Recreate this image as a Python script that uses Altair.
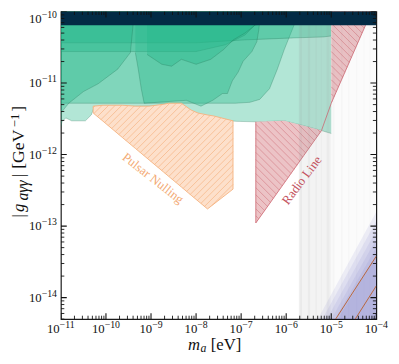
import altair as alt
import numpy as np
import pandas as pd

# ---------------- values (log10 units) ----------------
X_DOMAIN = [1e-11, 1e-4]
Y_DOMAIN = [5e-15, 1e-10]

# green exclusion regions: lower edge (log10 m, log10 g); upper edge is the top of the plot
G1_LOGM = [-11.0, -10.978, -10.891, -10.761, -10.457, -10.326, -10.261, -9.739, -8.652, -8.109, -7.957, -7.609, -7.196, -7.109, -6.652, -6.043, -5.609, -5.217, -5.0]
G1_LOGG = [-11.623, -11.542, -11.487, -11.528, -11.528, -11.446, -11.337, -11.33, -11.32, -11.40, -11.44, -11.48, -11.53, -11.535, -11.542, -11.528, -11.596, -11.664, -11.705]
G2_LOGM = [-11.0, -7.130, -6.804, -6.587, -6.370, -6.196, -6.043, -5.913, -5.826, -5.783]
G2_LOGG = [-11.282, -11.282, -11.269, -11.228, -11.078, -10.805, -10.532, -10.327, -10.191, -10.0]
G3_LOGM = [-11.0, -8.0, -6.913, -5.826, -5.174, -5.0]
G3_LOGG = [-10.437, -10.437, -10.396, -10.368, -10.355, -10.341]
G4_LOGM = [-11.0, -8.0, -7.348, -6.913, -6.696, -6.587]
G4_LOGG = [-10.559, -10.559, -10.464, -10.327, -10.191, -10.0]
D1_LOGM = [-11.0, -10.826, -10.5, -10.174, -9.739, -9.457, -9.370]
D1_LOGG = [-11.419, -11.282, -11.119, -11.010, -10.805, -10.573, -10.0]
D2_LOGM = [-9.348, -9.283, -9.217, -9.152, -8.217, -7.891, -7.630, -7.413, -7.304, -7.196, -7.065, -6.957, -6.761, -6.652, -6.609, -6.565]
D2_LOGG = [-10.573, -10.805, -11.078, -11.282, -11.241, -11.323, -11.241, -11.146, -11.146, -10.969, -10.846, -10.696, -10.559, -10.423, -10.259, -10.0]
D3_LOGM = [-9.087, -8.761, -8.543, -8.326, -8.0, -7.674, -7.391, -7.174, -6.913, -6.696, -6.478, -6.370]
D3_LOGG = [-10.600, -10.737, -10.764, -10.668, -10.737, -10.668, -10.532, -10.396, -10.300, -10.191, -10.164, -10.0]
GREEN_REGIONS = [(G1_LOGM, G1_LOGG), (G2_LOGM, G2_LOGG), (G3_LOGM, G3_LOGG), (G4_LOGM, G4_LOGG),
                 (D1_LOGM, D1_LOGG), (D2_LOGM, D2_LOGG), (D3_LOGM, D3_LOGG)]

# Pulsar Nulling region
OR_LOGM = [-10.283, -10.065, -9.630, -9.348, -9.043, -8.717, -8.609, -8.326, -8.109, -7.957, -7.746, -7.609, -7.180]
OR_TOP = [-11.323, -11.310, -11.310, -11.323, -11.323, -11.296, -11.282, -11.282, -11.378, -11.419, -11.446, -11.460, -11.528]
OR_BOT = [-11.419, -11.533, -11.764, -11.913, -12.074, -12.246, -12.304, -12.453, -12.569, -12.649, -12.760, -12.693, -12.483]

# Radio Line region
RL_LOGM = [-6.674, -6.043, -5.609, -5.217, -5.0, -5.0, -4.239, -4.109]
RL_BOT = [-12.956, -12.397, -12.012, -11.664, -11.282, -11.282, -10.191, -10.0]
RL_TOP = [-11.542, -11.528, -11.596, -11.664, -11.282, -10.0, -10.0, -10.0]

# top dark band
NAVY_LOGM = [-11.0, -4.0]
NAVY_LOGG = [-10.19, -10.19]

# grey vertical streaks: (log m start, log m end, opacity)
STREAKS = [(-5.72, -5.0, 0.11), (-5.70, -5.65, 0.08), (-5.52, -5.47, 0.08), (-5.35, -5.32, 0.07),
           (-5.23, -5.21, 0.06), (-5.10, -5.04, 0.08), (-5.0, -4.0, 0.03), (-4.97, -4.93, 0.05),
           (-4.78, -4.75, 0.05), (-4.62, -4.60, 0.05), (-4.45, -4.42, 0.04), (-4.28, -4.26, 0.04),
           (-4.15, -4.13, 0.04)]

# QCD band: start of each layer at the bottom edge, upper edge at m = 1e-4
BAND_START_LOGM = [-5.30, -5.20, -5.10, -5.00, -4.92, -4.85]
BAND_TOP_LOGG = [-12.80, -12.93, -13.06, -13.18, -13.30, -13.40]
KSVZ_M = [1.25e-5, 1e-4]
KSVZ_G = [5.0e-15, 3.8e-14]
DFSZ_M = [3.4e-5, 1e-4]
DFSZ_G = [5.0e-15, 1.46e-14]

ANNOTATIONS = [("Pulsar Nulling", -8.957, -12.333, 38, "#f3aa74"),
               ("Radio Line", -5.652, -12.36, 307, "#c4545f")]

X_MAJOR_EXP = list(range(-11, -3))
Y_MAJOR_EXP = list(range(-14, -9))

# ---------------- styling ----------------
SERIF = "Liberation Serif"
GREEN = "#23b88a"
TICK = "#111111"
PX_X = 46.0   # pixels per decade (hatch / tick geometry)
PX_Y = 73.0
W, H = 322, 314

XS = alt.Scale(type="log", domain=X_DOMAIN, nice=False)
YS = alt.Scale(type="log", domain=Y_DOMAIN, nice=False)


def X(f="m"):
    return alt.X(f"{f}:Q", scale=XS, axis=None)


def Y(f="g"):
    return alt.Y(f"{f}:Q", scale=YS, axis=None)


def area_df(logm, lo, hi):
    return pd.DataFrame({"m": 10 ** np.asarray(logm, float), "g": 10 ** np.asarray(lo, float),
                         "g2": 10 ** np.asarray(hi, float)})


def path_df(points):
    return pd.DataFrame({"m": [10 ** p[0] for p in points], "g": [10 ** p[1] for p in points],
                         "i": list(range(len(points)))})


def hatch_df(logm, lo, hi, sign, spacing):
    xs = np.asarray(logm, float)
    u = np.linspace(xs.min(), xs.max(), 1500)
    a = np.interp(u, xs, lo)
    b = np.interp(u, xs, hi)
    qlo = np.minimum(a, b) * PX_Y
    qhi = np.maximum(a, b) * PX_Y
    p = u * PX_X
    cmin = np.min(qlo - sign * p)
    cmax = np.max(qhi - sign * p)
    rows = []
    c = np.floor(cmin / spacing) * spacing
    while c <= cmax:
        q = sign * p + c
        idx = np.flatnonzero((q >= qlo) & (q <= qhi))
        if idx.size:
            br = np.flatnonzero(np.diff(idx) > 1)
            starts = np.r_[idx[0], idx[br + 1]]
            ends = np.r_[idx[br], idx[-1]]
            for s, e in zip(starts, ends):
                if e > s:
                    rows.append({"m": float(10 ** u[s]), "g": float(10 ** (q[s] / PX_Y)),
                                 "m2": float(10 ** u[e]), "g2": float(10 ** (q[e] / PX_Y))})
        c += spacing
    return pd.DataFrame(rows)


LOG_YMIN, LOG_YMAX = float(np.log10(Y_DOMAIN[0])), float(np.log10(Y_DOMAIN[1]))
LOG_XMIN, LOG_XMAX = float(np.log10(X_DOMAIN[0])), float(np.log10(X_DOMAIN[1]))

layers = []

# green regions
for lm, lg in GREEN_REGIONS:
    df = area_df(lm, lg, [-10.0] * len(lm))
    layers.append(alt.Chart(df).mark_area(color=GREEN, opacity=0.35, clip=True).encode(x=X(), y=Y(), y2="g2:Q"))
    layers.append(alt.Chart(df).mark_line(color="#1d6b4e", strokeWidth=0.7, opacity=0.4, clip=True).encode(x=X(), y=Y()))

# radio line region
layers.append(alt.Chart(area_df(RL_LOGM, RL_BOT, RL_TOP)).mark_area(color="#ecc3c6", opacity=1, clip=True)
              .encode(x=X(), y=Y(), y2="g2:Q"))
layers.append(alt.Chart(hatch_df(RL_LOGM, RL_BOT, RL_TOP, -1, 7.2)).mark_rule(color="#d98a92", strokeWidth=0.8, clip=True)
              .encode(x=X(), x2="m2:Q", y=Y(), y2="g2:Q"))
rl_path = [(RL_LOGM[0], RL_TOP[0])] + list(zip(RL_LOGM[:5], RL_BOT[:5])) + list(zip(RL_LOGM[6:], RL_BOT[6:]))
layers.append(alt.Chart(path_df(rl_path)).mark_line(color="#d0707a", strokeWidth=0.9, clip=True)
              .encode(x=X(), y=Y(), order="i:Q"))

# pulsar nulling region
layers.append(alt.Chart(area_df(OR_LOGM, OR_BOT, OR_TOP)).mark_area(color="#fde0cb", opacity=1, clip=True)
              .encode(x=X(), y=Y(), y2="g2:Q"))
layers.append(alt.Chart(hatch_df(OR_LOGM, OR_BOT, OR_TOP, 1, 6.7)).mark_rule(color="#f6b88a", strokeWidth=0.8, clip=True)
              .encode(x=X(), x2="m2:Q", y=Y(), y2="g2:Q"))
or_path = list(zip(OR_LOGM, OR_TOP)) + list(zip(OR_LOGM[::-1], OR_BOT[::-1])) + [(OR_LOGM[0], OR_TOP[0])]
layers.append(alt.Chart(path_df(or_path)).mark_line(color="#f5b27e", strokeWidth=0.9, clip=True)
              .encode(x=X(), y=Y(), order="i:Q"))

# grey streaks
streak_df = pd.DataFrame({"m": [10 ** s[0] for s in STREAKS], "m2": [10 ** s[1] for s in STREAKS],
                          "op": [s[2] for s in STREAKS]})
streak_df["g"] = Y_DOMAIN[0]
streak_df["g2"] = Y_DOMAIN[1]
layers.append(alt.Chart(streak_df).mark_rect(color="#8f8f8f", clip=True)
              .encode(x=X(), x2="m2:Q", y=Y(), y2="g2:Q", opacity=alt.Opacity("op:Q", scale=None, legend=None)))

# QCD band
for sm, tg in zip(BAND_START_LOGM, BAND_TOP_LOGG):
    bdf = area_df([sm, -4.0], [LOG_YMIN] * 2, [LOG_YMIN, tg])
    layers.append(alt.Chart(bdf).mark_area(color="#6464c0", opacity=0.095, clip=True).encode(x=X(), y=Y(), y2="g2:Q"))
for mm, gg in ((KSVZ_M, KSVZ_G), (DFSZ_M, DFSZ_G)):
    ldf = pd.DataFrame({"m": mm, "g": gg, "i": [0, 1]})
    layers.append(alt.Chart(ldf).mark_line(color="#b8653a", strokeWidth=1.0, clip=True)
                  .encode(x=X(), y=Y(), order="i:Q"))

# top dark band
layers.append(alt.Chart(area_df(NAVY_LOGM, NAVY_LOGG, [-10.0, -10.0])).mark_area(color="#032b45", opacity=1, clip=True)
              .encode(x=X(), y=Y(), y2="g2:Q"))

# ---------------- ticks (inward, on all four sides) ----------------
X_MAJOR = [10.0 ** e for e in X_MAJOR_EXP]
Y_MAJOR = [10.0 ** e for e in Y_MAJOR_EXP]
X_MINOR = [k * 10.0 ** n for n in range(-11, -4) for k in range(2, 10)]
Y_MINOR = [k * 10.0 ** n for n in range(-15, -10) for k in range(2, 10) if k * 10.0 ** n >= 5e-15]

tick_rows = []
for vals, size, sw in ((X_MAJOR, 6.0, 1.1), (X_MINOR, 3.5, 0.9)):
    d = size / PX_Y
    for v in vals:
        tick_rows.append({"m": v, "m2": v, "g": 10 ** LOG_YMIN, "g2": 10 ** (LOG_YMIN + d), "w": sw})
        tick_rows.append({"m": v, "m2": v, "g": 10 ** (LOG_YMAX - d), "g2": 10 ** LOG_YMAX, "w": sw})
for vals, size, sw in ((Y_MAJOR, 6.0, 1.1), (Y_MINOR, 3.5, 0.9)):
    d = size / PX_X
    for v in vals:
        tick_rows.append({"g": v, "g2": v, "m": 10 ** LOG_XMIN, "m2": 10 ** (LOG_XMIN + d), "w": sw})
        tick_rows.append({"g": v, "g2": v, "m": 10 ** (LOG_XMAX - d), "m2": 10 ** LOG_XMAX, "w": sw})
TICK_DF = pd.DataFrame(tick_rows)
layers.append(alt.Chart(TICK_DF).mark_rule(color=TICK, clip=True)
              .encode(x=X(), x2="m2:Q", y=Y(), y2="g2:Q",
                      strokeWidth=alt.StrokeWidth("w:Q", scale=None, legend=None)))

# annotations
for txt, lm, lg, ang, col in ANNOTATIONS:
    tdf = pd.DataFrame({"m": [10 ** lm], "g": [10 ** lg], "t": [txt]})
    layers.append(alt.Chart(tdf).mark_text(angle=ang, color=col, font=SERIF, fontSize=13, align="center",
                                           baseline="middle").encode(x=X(), y=Y(), text="t:N"))

# ---------------- tick labels: "10" with a raised exponent ----------------
for two_digit, dxl in ((True, -1.3), (False, 1.2)):
    exps = [e for e in X_MAJOR_EXP if (e <= -10) == two_digit]
    ldf = pd.DataFrame({"m": [10.0 ** e for e in exps], "base": ["10"] * len(exps),
                        "exp": [f"\u2212{-e}" for e in exps]})
    layers.append(alt.Chart(ldf).mark_text(align="right", baseline="alphabetic", font=SERIF, fontSize=13,
                                           color=TICK, dx=dxl)
                  .encode(x=X(), y=alt.value(H + 14), text="base:N"))
    layers.append(alt.Chart(ldf).mark_text(align="left", baseline="alphabetic", font=SERIF, fontSize=10,
                                           color=TICK, dx=dxl)
                  .encode(x=X(), y=alt.value(H + 9.5), text="exp:N"))

# y labels; the topmost one sits slightly lower so it stays inside the page
for exps, shift in ((Y_MAJOR_EXP[:-1], 0), (Y_MAJOR_EXP[-1:], 8)):
    ydf = pd.DataFrame({"g": [10.0 ** e for e in exps], "base": ["10"] * len(exps),
                        "exp": [f"\u2212{-e}" for e in exps]})
    layers.append(alt.Chart(ydf).mark_text(align="right", baseline="alphabetic", font=SERIF, fontSize=13,
                                           color=TICK, dy=4 + shift)
                  .encode(y=Y(), x=alt.value(-19.6), text="base:N"))
    layers.append(alt.Chart(ydf).mark_text(align="right", baseline="alphabetic", font=SERIF, fontSize=10,
                                           color=TICK, dy=-1 + shift)
                  .encode(y=Y(), x=alt.value(-4), text="exp:N"))

# ---------------- axis titles (pieces: text, x, y, size, style, angle) ----------------
TITLE_PIECES = [
    ("m", 129.7, 345, 17, "italic", 0),
    ("a", 142.5, 348, 12, "italic", 0),
    ("[eV]", 153, 345, 17, "normal", 0),
    ("|", -38, 210.3, 17, "normal", 270),
    ("g", -38, 204.5, 17, "italic", 270),
    ("a\u03b3\u03b3", -34, 193, 16, "italic", 270),
    ("|", -38, 169, 17, "normal", 270),
    ("[GeV", -38, 160.5, 18, "normal", 270),
    ("\u22121", -43, 118, 13, "normal", 270),
    ("]", -38, 102, 17, "normal", 270),
]
ONE = pd.DataFrame({"k": [0]})
for txt, px, py, fs, style, ang in TITLE_PIECES:
    layers.append(alt.Chart(ONE).mark_text(text=txt, align="left", baseline="alphabetic", font=SERIF,
                                           fontSize=fs, fontStyle=style, angle=ang, color="#111111")
                  .encode(x=alt.value(px), y=alt.value(py)))

chart = (alt.layer(*layers)
         .properties(width=W, height=H, autosize=alt.AutoSizeParams(type="none"),
                     padding={"left": 54, "top": 0, "right": 15, "bottom": 34}, background="white")
         .configure_view(stroke="#1a1a1a", strokeWidth=1.2))

chart.save("out.html", embed_options={"renderer": "svg", "actions": False})
